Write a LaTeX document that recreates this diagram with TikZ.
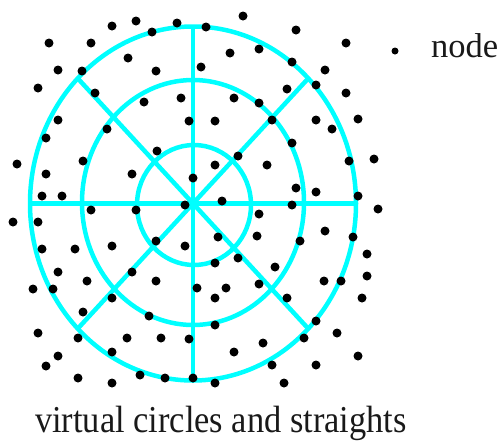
\documentclass[tikz,border=0pt]{standalone}
\usepackage{fontspec}
\setmainfont{Liberation Serif}
\definecolor{vcyan}{RGB}{0,255,255}
\tikzset{
  gridline/.style={draw=vcyan, line width=4.5pt},
  dotmark/.style={fill=black},
  lbl/.style={font=\fontsize{34.5}{40}\selectfont, inner sep=0pt, anchor=base west, text=black!90},
  caplbl/.style={font=\fontsize{38}{44}\selectfont, inner sep=0pt, anchor=base west, text=black!90}
}
\begin{document}
\begin{tikzpicture}[x=1pt,y=-1pt]
\useasboundingbox (0,0) rectangle (500,440);
% centres
\coordinate (c1) at (193,203.5);
\coordinate (c2) at (193,202.5);
\coordinate (c3) at (194,205);
% spoke ends
\coordinate (N) at (193,26.5);
\coordinate (S) at (193,380.5);
\coordinate (W) at (30,203.5);
\coordinate (E) at (356,203.5);
\coordinate (NW) at (77.7,78.3);
\coordinate (SE) at (308.3,328.7);
\coordinate (NE) at (308.3,78.3);
\coordinate (SW) at (77.7,328.7);
% circles
\draw[gridline] (c1) ellipse [x radius=163pt, y radius=177pt];
\draw[gridline] (c2) ellipse [x radius=111pt, y radius=122.5pt];
\draw[gridline] (c3) ellipse [x radius=57pt, y radius=60pt];
% straights
\draw[gridline] (W) -- (E);
\draw[gridline] (N) -- (S);
\draw[gridline] (NW) -- (SE);
\draw[gridline] (NE) -- (SW);
% nodes (dots)
\foreach \x/\y in {136/21,177/23,243/16,112/26,206/27,296/30,152/32,49/43,91/43,346/43,
259/49,230/53,128/58,292/62,201/67,58/70,82/71,156/71,325/70,316/85,38/88,287/89,95/93,
346/93,181/98,234/98,144/102,259/103,358/119,58/120,189/121,215/121,272/120,316/120,
107/129,332/129,46/138,292/143,157/151,238/156,374/159,349/161,83/161,17/164,215/165,
267/165,46/174,132/174,193/178,296/188,316/192,42/196,62/196,358/196,222/201,185/205,
292/205,378/209,91/210,136/210,259/214,13/222,38/222,325/231,218/237,257/236,353/237,
300/241,156/241,112/246,185/246,42/249,75/249,367/254,238/258,215/263,275/267,58/272,
132/272,367/276,87/281,156/281,324/281,341/281,259/284,197/288,226/288,33/289,53/289,
112/298,215/298,287/298,362/298,83/312,149/316,316/321,215/325,38/333,337/333,78/338,
127/338,161/338,189/339,304/338,263/343,112/352,234/352,58/356,358/356,46/366,272/365,
316/365,140/375,165/378,193/378,78/378,112/383,215/383,284/383}
  \fill[dotmark] (\x,\y) circle [radius=4.5pt];
% legend
\fill[dotmark] (395,51) circle [radius=3.5pt];
\node[lbl] (legend) at (431,57) {node};
% caption
\node[caplbl] (caption) at (35,432) {\scalebox{0.905}[1]{virtual circles and straights}};
\end{tikzpicture}
\end{document}
